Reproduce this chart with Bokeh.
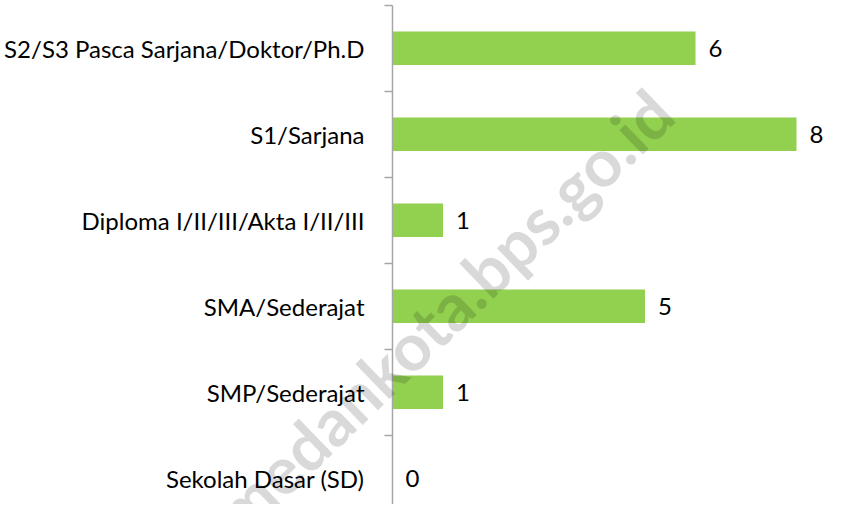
from bokeh.plotting import figure
from bokeh.models import Range1d, FixedTicker, Label
from bokeh.embed import file_html
from bokeh.resources import INLINE
from bokeh.core.properties import value

# Data (top to bottom as shown)
categories = [
    "S2/S3 Pasca Sarjana/Doktor/Ph.D",
    "S1/Sarjana",
    "Diploma I/II/III/Akta I/II/III",
    "SMA/Sederajat",
    "SMP/Sederajat",
    "Sekolah Dasar (SD)",
]
counts = [6, 8, 1, 5, 1, 0]

n = len(categories)
ys = [n - i - 0.5 for i in range(n)]
labels = [str(v) for v in counts]

# layout (pixels)
W, H = 825, 504
px_per_cat = 86
top_pad = 4.7
px_per_unit = 50.5
left_px = 392      # space left of the value axis
right_px = W - left_px

p = figure(
    width=W,
    height=H,
    min_border_left=0,
    min_border_right=0,
    min_border_top=0,
    min_border_bottom=0,
    x_range=Range1d(-left_px / px_per_unit, right_px / px_per_unit),
    y_range=Range1d(n - (H - top_pad) / px_per_cat, n + top_pad / px_per_cat),
    x_axis_location=None,
    output_backend="svg",
    toolbar_location=None,
)
p.outline_line_color = None
p.xgrid.visible = False
p.ygrid.visible = False
p.background_fill_color = "white"
p.border_fill_color = "white"

p.hbar(y=ys, right=counts, left=0, height=0.39, fill_color="#92D050",
       line_color=None)

p.text(x=counts, y=ys, text=labels, x_offset=13, text_align="left",
       text_baseline="middle", text_font=value("Lato"),
       text_font_size="24px", text_color="#000000")

ax = p.yaxis[0]
ax.fixed_location = 0
ax.bounds = (0, n)
ax.ticker = FixedTicker(ticks=ys, minor_ticks=list(range(0, n + 1)))
ax.major_label_overrides = {y: c for y, c in zip(ys, categories)}
ax.axis_line_color = "#a6a6a6"
ax.axis_line_width = 1.5
ax.major_tick_in = 0
ax.major_tick_out = 0
ax.minor_tick_in = 0
ax.minor_tick_out = 8
ax.minor_tick_line_color = "#a6a6a6"
ax.minor_tick_line_width = 1.5
ax.major_label_standoff = 20
ax.major_label_text_font = "Lato"
ax.major_label_text_font_size = "24px"
ax.major_label_text_color = "#000000"

# watermark (screen units, relative to the plot frame, anchored at baseline)
wm = Label(x=443, y=193, x_units="screen", y_units="screen",
           text="medankota.bps.go.id", angle=0.768,
           text_font="Lato", text_font_style="bold",
           text_font_size="66px", text_color="black", text_alpha=0.15,
           text_align="center", text_baseline="alphabetic")
p.add_layout(wm)

open("out.html", "w").write(file_html(p, INLINE))
